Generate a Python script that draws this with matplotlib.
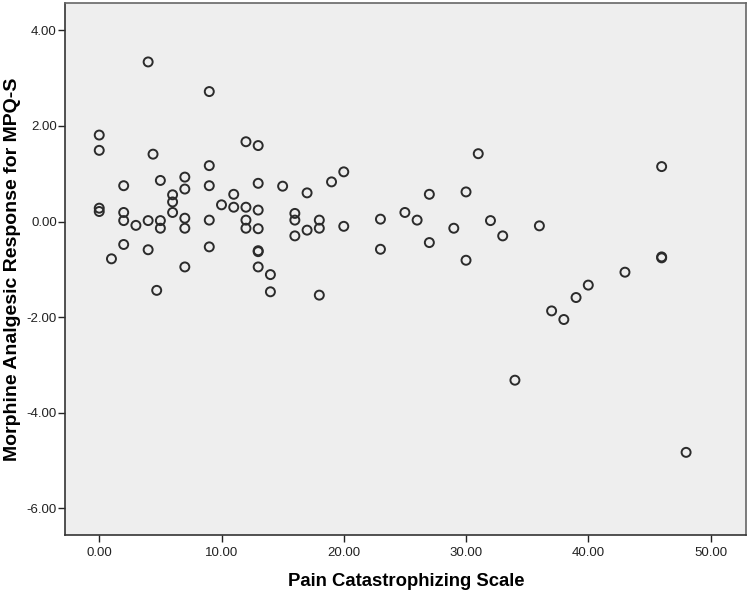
import matplotlib.pyplot as plt
import numpy as np

plt.rcParams['font.family'] = ['Liberation Sans', 'DejaVu Sans']
plt.rcParams['axes.unicode_minus'] = False

# Pain Catastrophizing Scale (x) and Morphine analgesic response (y)
pcs = [4, 9, 0, 0, 4.4, 9, 12, 13, 31, 46,
       2, 5, 7, 7, 9, 11, 6, 13, 15, 17,
       19, 20, 27, 30, 6, 6, 10, 11, 12, 0,
       0, 2, 13, 16, 25, 2, 4, 5, 7, 9,
       12, 16, 18, 23, 26, 32, 3, 5, 7, 12,
       13, 17, 18, 20, 29, 36, 16, 33, 2, 9,
       4, 23, 13, 13, 27, 46, 46, 30, 1, 7,
       13, 14, 43, 40, 39, 37, 38, 4.7, 14, 18,
       34, 48]
mpq = [3.34, 2.72, 1.81, 1.49, 1.41, 1.17, 1.67, 1.59, 1.42, 1.15,
       0.75, 0.86, 0.93, 0.68, 0.75, 0.57, 0.56, 0.80, 0.74, 0.60,
       0.83, 1.04, 0.57, 0.62, 0.41, 0.19, 0.35, 0.30, 0.30, 0.28,
       0.21, 0.19, 0.24, 0.17, 0.19, 0.02, 0.02, 0.02, 0.07, 0.03,
       0.03, 0.03, 0.03, 0.05, 0.03, 0.02, -0.08, -0.14, -0.14, -0.14,
       -0.15, -0.18, -0.14, -0.10, -0.14, -0.09, -0.30, -0.30, -0.48, -0.53,
       -0.59, -0.58, -0.61, -0.63, -0.44, -0.74, -0.76, -0.81, -0.78, -0.95,
       -0.95, -1.11, -1.06, -1.33, -1.59, -1.87, -2.05, -1.44, -1.47, -1.54,
       -3.32, -4.83]

x_ticks = [0, 10, 20, 30, 40, 50]
y_ticks = [4, 2, 0, -2, -4, -6]

fig = plt.figure(figsize=(7.5, 5.96), dpi=100)
ax = fig.add_axes([0.087, 0.1023, 0.908, 0.892])
ax.set_facecolor('#eeeeee')

ax.scatter(pcs, mpq, s=42, facecolors='none', edgecolors='#2b2b2b', linewidths=1.4)

ax.set_xlim(-2.78, 52.92)
ax.set_ylim(-6.56, 4.565)
ax.set_xticks(x_ticks)
ax.set_yticks(y_ticks)
ax.set_xticklabels(['%.2f' % v for v in x_ticks])
ax.set_yticklabels(['%.2f' % v for v in y_ticks])
ax.tick_params(direction='out', length=5, width=1, colors='#222222', labelsize=9.5)
ax.tick_params(axis='y', pad=1)
for side in ['top', 'right']:
    ax.spines[side].set_color('#666666')
for side in ['left', 'bottom']:
    ax.spines[side].set_color('#333333')
for sp in ax.spines.values():
    sp.set_linewidth(1.2)

ax.set_xlabel('Pain Catastrophizing Scale', fontsize=13.3, fontweight='bold', labelpad=10)
ax.set_ylabel('Morphine Analgesic Response for MPQ-S', fontsize=14, fontweight='bold', labelpad=4)

plt.savefig('out.png', dpi=100)
